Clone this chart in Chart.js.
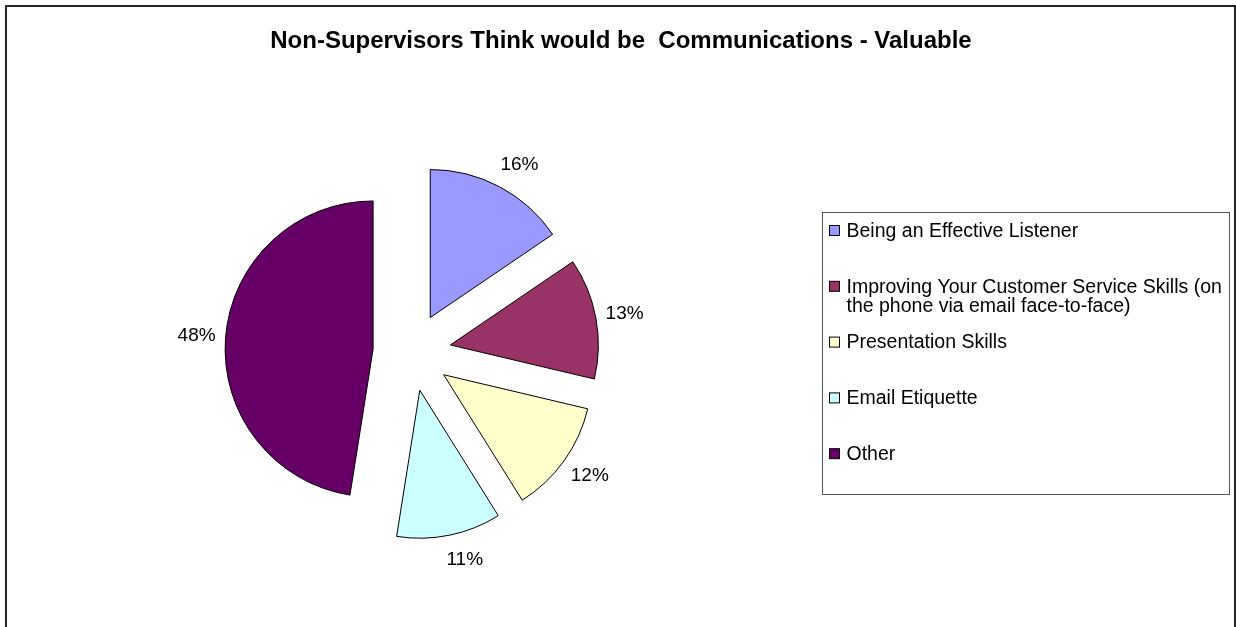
<!DOCTYPE html>
<html>
<head>
<meta charset="utf-8">
<script src="https://cdn.jsdelivr.net/npm/chart.js@4.4.0/dist/chart.umd.min.js"></script>
<style>
  html, body { margin: 0; padding: 0; background: #fff; }
  #contenedor { position: relative; width: 1236px; height: 627px; }
</style>
</head>
<body>
<div id="contenedor"><canvas id="grafica" width="1236" height="627"></canvas></div>
<script>
// Datos (porcentajes estimados por el angulo de cada porcion)
const titulo = 'Non-Supervisors Think would be  Communications - Valuable';
const categorias = [
  'Being an Effective Listener',
  ['Improving Your Customer Service Skills (on', 'the phone via email face-to-face)'],
  'Presentation Skills',
  'Email Etiquette',
  'Other'
];
const valores = [15.5, 13.2, 12.4, 11.4, 47.5];
const colores = ['#9999FF', '#993366', '#FFFFCC', '#CCFFFF', '#660066'];

// Estilo
const fuente = '"Liberation Sans", Arial, sans-serif';
const separacion = 39;   // px que se separa cada porcion
const etiquetaX = 17;    // px extra fuera del radio, en horizontal
const etiquetaY = 25;    // px extra fuera del radio, en vertical
const empujeX = 12;      // el texto se aparta un poco mas a los lados
const cajaLeyenda = { x: 822, y: 212, w: 407, h: 282 };
const pasoLeyenda = 55.8;

const total = valores.reduce((a, b) => a + b, 0);

const pastelSeparado = {
  id: 'pastelSeparado',
  // cada porcion se dibuja desplazada hacia fuera (pastel explotado)
  beforeDatasetsDraw(chart) {
    const ctx = chart.ctx;
    chart.getDatasetMeta(0).data.forEach(arco => {
      const medio = (arco.startAngle + arco.endAngle) / 2;
      ctx.save();
      ctx.translate(Math.cos(medio) * separacion, Math.sin(medio) * separacion);
      arco.draw(ctx, chart.chartArea);
      ctx.restore();
    });
    return false;
  },
  afterDraw(chart) {
    const ctx = chart.ctx;
    ctx.save();

    // marco exterior
    ctx.strokeStyle = '#222';
    ctx.lineWidth = 2;
    ctx.strokeRect(6, 6, 1229, 660);

    // titulo
    ctx.fillStyle = '#000';
    ctx.font = 'bold 24px ' + fuente;
    ctx.textAlign = 'center';
    ctx.textBaseline = 'alphabetic';
    ctx.fillText(titulo, 621, 48);

    // porcentajes fuera de cada porcion
    ctx.font = '19px ' + fuente;
    ctx.textBaseline = 'middle';
    chart.getDatasetMeta(0).data.forEach((arco, i) => {
      const medio = (arco.startAngle + arco.endAngle) / 2;
      const ux = Math.cos(medio), uy = Math.sin(medio);
      const px = arco.x + ux * (separacion + arco.outerRadius + etiquetaX) + Math.sign(ux) * empujeX;
      const py = arco.y + uy * (separacion + arco.outerRadius + etiquetaY);
      ctx.fillText(Math.round(valores[i] / total * 100) + '%', px, py);
    });

    // leyenda
    ctx.strokeStyle = '#555';
    ctx.lineWidth = 1;
    ctx.strokeRect(cajaLeyenda.x + 0.5, cajaLeyenda.y + 0.5, cajaLeyenda.w, cajaLeyenda.h);
    ctx.font = '19.5px ' + fuente;
    ctx.textAlign = 'left';
    ctx.textBaseline = 'alphabetic';
    chart.data.labels.forEach((etiqueta, i) => {
      const fila = cajaLeyenda.y + 18 + i * pasoLeyenda;
      ctx.fillStyle = colores[i];
      ctx.fillRect(829.5, fila - 4.5, 10, 10);
      ctx.strokeStyle = '#000';
      ctx.strokeRect(829.5, fila - 4.5, 10, 10);
      ctx.fillStyle = '#000';
      const lineas = Array.isArray(etiqueta) ? etiqueta : [etiqueta];
      lineas.forEach((linea, j) => {
        ctx.fillText(linea, 846.5, fila + 6.8 + j * 19.3);
      });
    });

    ctx.restore();
  }
};

new Chart(document.getElementById('grafica'), {
  type: 'pie',
  data: {
    labels: categorias,
    datasets: [{
      data: valores,
      backgroundColor: colores,
      borderColor: '#000',
      borderWidth: 1,
      borderJoinStyle: 'miter',
      offset: 0
    }]
  },
  options: {
    responsive: false,
    animation: false,
    events: [],
    radius: 148,
    layout: { padding: { left: 212, right: 624, top: 152, bottom: 75 } },
    plugins: {
      legend: { display: false },
      title: { display: false },
      tooltip: { enabled: false }
    }
  },
  plugins: [pastelSeparado]
});
</script>
</body>
</html>
